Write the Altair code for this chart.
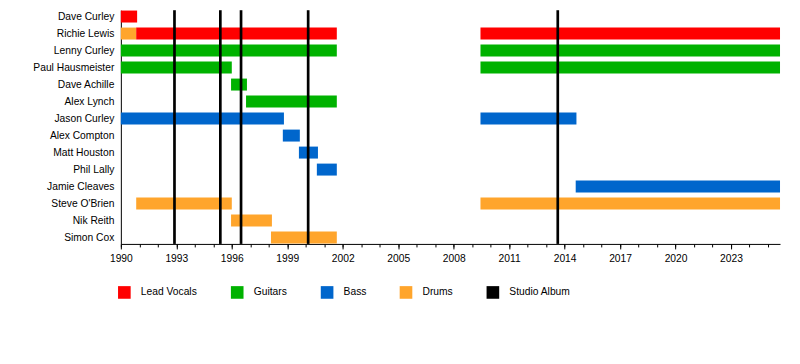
import altair as alt
import pandas as pd

# Members (top to bottom)
members = ["Dave Curley", "Richie Lewis", "Lenny Curley", "Paul Hausmeister", "Dave Achille",
           "Alex Lynch", "Jason Curley", "Alex Compton", "Matt Houston", "Phil Lally",
           "Jamie Cleaves", "Steve O'Brien", "Nik Reith", "Simon Cox"]

# Membership periods: member, role, start, end (decimal years)
period_member = ["Dave Curley", "Richie Lewis", "Richie Lewis", "Richie Lewis",
                 "Lenny Curley", "Lenny Curley", "Paul Hausmeister", "Paul Hausmeister",
                 "Dave Achille", "Alex Lynch", "Jason Curley", "Jason Curley",
                 "Alex Compton", "Matt Houston", "Phil Lally", "Jamie Cleaves",
                 "Steve O'Brien", "Steve O'Brien", "Nik Reith", "Simon Cox"]
period_role = ["Lead Vocals", "Drums", "Lead Vocals", "Lead Vocals",
               "Guitars", "Guitars", "Guitars", "Guitars",
               "Guitars", "Guitars", "Bass", "Bass",
               "Bass", "Bass", "Bass", "Bass",
               "Drums", "Drums", "Drums", "Drums"]
period_start = [1990.0, 1990.0, 1990.83, 2009.45,
                1990.0, 2009.45, 1990.0, 2009.45,
                1995.96, 1996.77, 1990.0, 2009.45,
                1998.76, 1999.63, 2000.6, 2014.6,
                1990.83, 2009.45, 1995.96, 1998.12]
period_end = [1990.88, 1990.83, 2001.68, 2025.65,
              2001.68, 2025.65, 1996.0, 2025.65,
              1996.82, 2001.68, 1998.82, 2014.64,
              1999.68, 2000.66, 2001.68, 2025.65,
              1996.0, 2025.65, 1998.17, 2001.68]

# Studio album release dates
albums = [1992.9, 1995.38, 1996.5, 2000.13, 2013.63]

roles = ["Lead Vocals", "Guitars", "Bass", "Drums", "Studio Album"]
role_colors = ["#FF0000", "#00B200", "#0066CC", "#FFA52C", "#000000"]

major_years = list(range(1990, 2024, 3))
minor_years = list(range(1990, 2026))

x_domain = [1990, 2025.65]

FONT = "Liberation Sans"
FS = 10.3

periods = pd.DataFrame({"member": period_member, "role": period_role,
                        "start": period_start, "end": period_end})
album_df = pd.DataFrame({"year": albums})

bars = alt.Chart(periods).mark_bar(opacity=1).encode(
    x=alt.X("start:Q", scale=alt.Scale(domain=x_domain, nice=False, zero=False),
            axis=alt.Axis(values=major_years, format="d", title=None, grid=False,
                          tickSize=5, labelPadding=5, labelFlush=False,
                          domainColor="black", tickColor="black",
                          labelColor="black", labelFont=FONT, labelFontSize=FS,
                          orient="bottom")),
    x2="end:Q",
    y=alt.Y("member:N", sort=members,
            scale=alt.Scale(paddingInner=0.296, paddingOuter=0.02),
            axis=alt.Axis(title=None, ticks=False, labelPadding=7, domainColor="black",
                          labelColor="black", labelFont=FONT, labelFontSize=FS)),
    color=alt.Color("role:N", scale=alt.Scale(domain=roles, range=role_colors),
                    legend=alt.Legend(title=None, orient="none", direction="horizontal",
                                      columns=5, legendX=-3, legendY=276,
                                      symbolType="square", symbolSize=160,
                                      symbolStrokeWidth=0, symbolOpacity=1,
                                      labelOffset=10, columnPadding=33, padding=0,
                                      labelFont=FONT, labelFontSize=FS,
                                      labelColor="black")),
)

rules = alt.Chart(album_df).mark_rule(color="black", strokeWidth=2.7).encode(
    x=alt.X("year:Q", scale=alt.Scale(domain=x_domain, nice=False, zero=False),
            axis=alt.Axis(values=minor_years, labels=False, domain=False, title=None,
                          grid=False, tickSize=3, tickColor="black", orient="bottom")),
)

chart = alt.layer(bars, rules).resolve_axis(x="independent").properties(
    width=660, height=234,
    padding={"left": 113, "top": 2, "right": 12, "bottom": 110},
    autosize=alt.AutoSizeParams(type="none"),
    background="white",
).configure_view(strokeWidth=0, stroke="transparent")

chart.save("out.html", embed_options={"renderer": "svg", "actions": False})
